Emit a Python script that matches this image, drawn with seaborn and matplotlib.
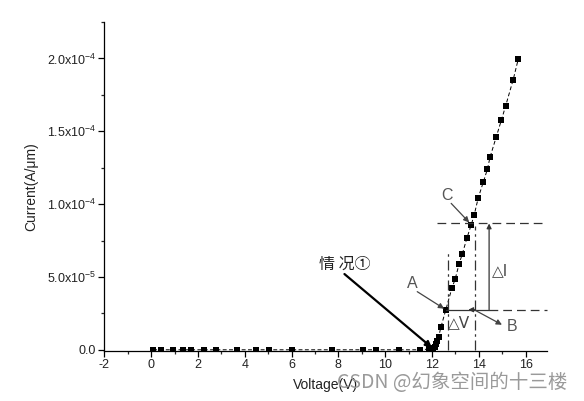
import numpy as np
import pandas as pd
import matplotlib
matplotlib.use("Agg")
import matplotlib.pyplot as plt
import seaborn as sns

# Data (Voltage in V, Current in 1e-5 A/um)
voltage = [0.09, 0.42, 0.94, 1.37, 1.70, 2.27, 2.76, 3.68, 4.49, 5.03, 6.03, 7.73,
           9.04, 9.61, 10.6, 11.5, 11.88, 12.05, 12.12, 12.18, 12.23, 12.28, 12.38,
           12.59, 12.85, 12.99, 13.16, 13.30, 13.49, 13.68, 13.80, 13.98, 14.19,
           14.37, 14.48, 14.75, 14.96, 15.15, 15.47, 15.69]
current_e5 = [0, 0, 0, 0, 0, 0, 0, 0, 0, 0, 0, 0,
              0, 0, 0, 0, 0.05, 0.12, 0.22, 0.38, 0.62, 0.85, 1.55,
              2.74, 4.23, 4.85, 5.91, 6.60, 7.66, 8.60, 9.24, 10.45, 11.50,
              12.41, 13.22, 14.64, 15.74, 16.76, 18.55, 19.98]

x_ticks = [-2, 0, 2, 4, 6, 8, 10, 12, 14, 16]
y_ticks = [0, 5e-5, 1e-4, 1.5e-4, 2e-4]
y_tick_labels = ["0.0", "5.0x10$^{-5}$", "1.0x10$^{-4}$", "1.5x10$^{-4}$", "2.0x10$^{-4}$"]

df = pd.DataFrame({"Voltage": voltage, "Current": np.array(current_e5) * 1e-5})

sns.set_theme(style="ticks")
plt.rcParams["font.family"] = ["Liberation Sans", "DejaVu Sans"]
plt.rcParams["mathtext.fontset"] = "custom"
plt.rcParams["mathtext.rm"] = "Liberation Sans"
plt.rcParams["mathtext.it"] = "Liberation Sans"

fig = plt.figure(figsize=(5.84, 4.01), dpi=100)
ax = fig.add_axes([0.1786, 0.1259, 0.9361 - 0.1786, 0.9451 - 0.1259])

sns.lineplot(data=df, x="Voltage", y="Current", ax=ax, color="black",
             marker="s", markersize=4.8, markeredgewidth=0, linestyle=(0, (4, 2.5)),
             linewidth=0.7, sort=False)

ax.set_xlim(-2, 16.9)
ax.set_ylim(-0.5e-6, 2.25e-4)
ax.set_xticks(x_ticks)
ax.set_xticklabels([str(t) for t in x_ticks])
ax.set_xticks(np.arange(-1, 17, 2), minor=True)
ax.set_yticks(y_ticks)
ax.set_yticklabels(y_tick_labels)
ax.set_yticks([2.5e-5, 7.5e-5, 1.25e-4, 1.75e-4, 2.25e-4], minor=True)
ax.tick_params(axis="both", which="major", direction="out", length=4, width=0.9,
               labelsize=9, colors="black", labelcolor="#222222", pad=2)
ax.tick_params(axis="both", which="minor", direction="out", length=2.5, width=0.9)
for s in ["top", "right"]:
    ax.spines[s].set_visible(False)
for s in ["left", "bottom"]:
    ax.spines[s].set_linewidth(0.9)
    ax.spines[s].set_color("black")

ax.set_xlabel("Voltage(V)", fontsize=10, color="#222222", labelpad=5)
ax.set_ylabel("Current(A/\u03bcm)", fontsize=10, color="#222222", labelpad=6)

# Annotation lines
Ia, Ic = 2.75e-5, 8.67e-5
dash_long = (0, (7, 4))
dashdot = (0, (8, 3, 2, 3))
ax.plot([12.22, 16.9], [Ic, Ic], color="#333333", lw=0.9, linestyle=dash_long, clip_on=False)
ax.plot([14.44, 16.9], [Ia, Ia], color="#333333", lw=0.9, linestyle=dash_long, clip_on=False)
ax.plot([12.59, 14.44], [Ia, Ia], color="#333333", lw=0.9)
ax.plot([12.69, 12.69], [0, 6.83e-5], color="#333333", lw=0.9, linestyle=dashdot)
ax.plot([13.84, 13.84], [0, 8.5e-5], color="#333333", lw=0.9, linestyle=dashdot)

# Delta I vertical arrow
ax.annotate("", xy=(14.44, Ic), xytext=(14.44, Ia),
            arrowprops=dict(arrowstyle="-|>", color="#333333", lw=0.9,
                            mutation_scale=7, shrinkA=0, shrinkB=0))
# small left arrow head on Delta V line
ax.annotate("", xy=(13.55, Ia), xytext=(13.85, Ia),
            arrowprops=dict(arrowstyle="-|>", color="#333333", lw=0.9,
                            mutation_scale=7, shrinkA=0, shrinkB=0))

ax.text(14.93, 5.45e-5, "\u25b3I", fontsize=11, color="#444444", ha="center", va="center",
        family=["DejaVu Sans"])
ax.text(13.16, 1.86e-5, "\u25b3V", fontsize=11, color="#444444", ha="center", va="center",
        family=["DejaVu Sans"])

# Labels A, B, C
lab_kw = dict(fontsize=11.5, color="#555555", ha="center", va="center")
ax.text(11.16, 4.54e-5, "A", **lab_kw)
ax.annotate("", xy=(12.52, 2.82e-5), xytext=(11.37, 3.99e-5),
            arrowprops=dict(arrowstyle="-|>", color="#444444", lw=0.9,
                            mutation_scale=8, shrinkA=0, shrinkB=0))
ax.text(12.65, 10.6e-5, "C", **lab_kw)
ax.annotate("", xy=(13.59, 8.74e-5), xytext=(12.82, 10.05e-5),
            arrowprops=dict(arrowstyle="-|>", color="#444444", lw=0.9,
                            mutation_scale=8, shrinkA=0, shrinkB=0))
ax.text(15.42, 1.58e-5, "B", **lab_kw)
ax.annotate("", xy=(14.99, 1.72e-5), xytext=(13.88, 2.68e-5),
            arrowprops=dict(arrowstyle="-|>", color="#444444", lw=0.9,
                            mutation_scale=8, shrinkA=0, shrinkB=0))

# Case 1 annotation
ax.text(8.26, 5.85e-5, "情 况①", fontsize=11.5, color="#222222", ha="center", va="center",
        family=["Noto Sans CJK SC", "DejaVu Sans"])
ax.annotate("", xy=(12.0, 0.14e-5), xytext=(8.26, 5.2e-5),
            arrowprops=dict(arrowstyle="-|>", color="black", lw=1.6,
                            mutation_scale=9, shrinkA=0, shrinkB=0))

# Watermark
fig.text(567 / 584, 1 - 383 / 401, "CSDN @幻象空间的十三楼", fontsize=14, color="#9a9a9a",
         ha="right", va="center", family=["Noto Sans CJK SC", "DejaVu Sans"])

fig.savefig("out.png", dpi=100)
